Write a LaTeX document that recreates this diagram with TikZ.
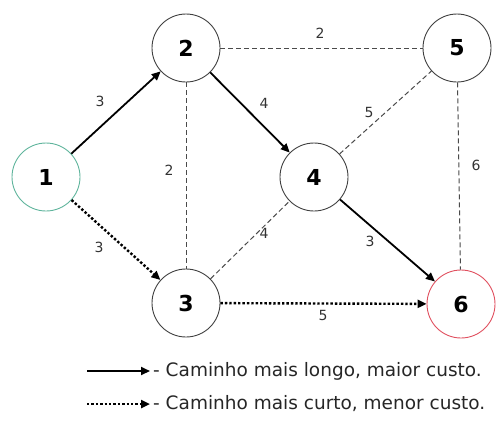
\documentclass[tikz,border=0pt]{standalone}
\usepackage{fontspec}
\setmainfont{DejaVu Sans}
\usetikzlibrary{arrows.meta}
\definecolor{startc}{HTML}{5FB49C}
\definecolor{endc}{HTML}{E0505F}
\definecolor{dashc}{HTML}{4A4A4A}
\tikzset{
  vert/.style={circle, draw=black!75, line width=0.9pt, minimum size=68pt, inner sep=0pt, font=\fontsize{22}{22}\selectfont\bfseries},
  elab/.style={font=\fontsize{14}{14}\selectfont, text=black!80, inner sep=1pt},
  longp/.style={line width=1.8pt, -{Triangle[length=9pt,width=8pt]}},
  shortp/.style={line width=2.4pt, dotted, -{Triangle[length=9pt,width=8pt]}},
  other/.style={draw=dashc, line width=1pt, dash pattern=on 5pt off 3pt},
  legtext/.style={font=\fontsize{18.5}{18.5}\selectfont, anchor=west, inner sep=0pt, text=black!85}
}
\begin{document}
\begin{tikzpicture}[x=1pt,y=-1pt]
\useasboundingbox (0,0) rectangle (497,421);
\node[vert, draw=startc] (n1) at (46,177) {1};
\node[vert] (n2) at (186,48) {2};
\node[vert] (n5) at (457,48) {5};
\node[vert] (n4) at (314,177) {4};
\node[vert] (n3) at (186,303) {3};
\node[vert, draw=endc] (n6) at (461,304) {6};

\draw[other] (n2) -- (n5);
\draw[other] (n2) -- (n3);
\draw[other] (n4) -- (n5);
\draw[other] (n5) -- (n6);
\draw[other] (n3) -- (n4);

\draw[longp] (n1) -- (n2);
\draw[longp] (n2) -- (n4);
\draw[longp] (n4) -- (n6);
\draw[shortp] (n1) -- (n3);
\draw[shortp] (n3) -- (n6);

\node[elab] (l12) at (100,101) {3};
\node[elab] (l25) at (320,33) {2};
\node[elab] (l24) at (264,103) {4};
\node[elab] (l45) at (369,112) {5};
\node[elab] (l23) at (169,170) {2};
\node[elab] (l56) at (476,165) {6};
\node[elab] (l13) at (99,247) {3};
\node[elab] (l34) at (264,233) {4};
\node[elab] (l46) at (370,241) {3};
\node[elab] (l36) at (323,315) {5};

\coordinate (a1) at (87,371);
\coordinate (b1) at (150,371);
\coordinate (a2) at (87,404);
\coordinate (b2) at (150,404);
\draw[longp] (a1) -- (b1);
\draw[shortp] (a2) -- (b2);
\node[legtext] (t1) at (153,371) {- Caminho mais longo, maior custo.};
\node[legtext] (t2) at (153,404) {- Caminho mais curto, menor custo.};
\end{tikzpicture}
\end{document}
